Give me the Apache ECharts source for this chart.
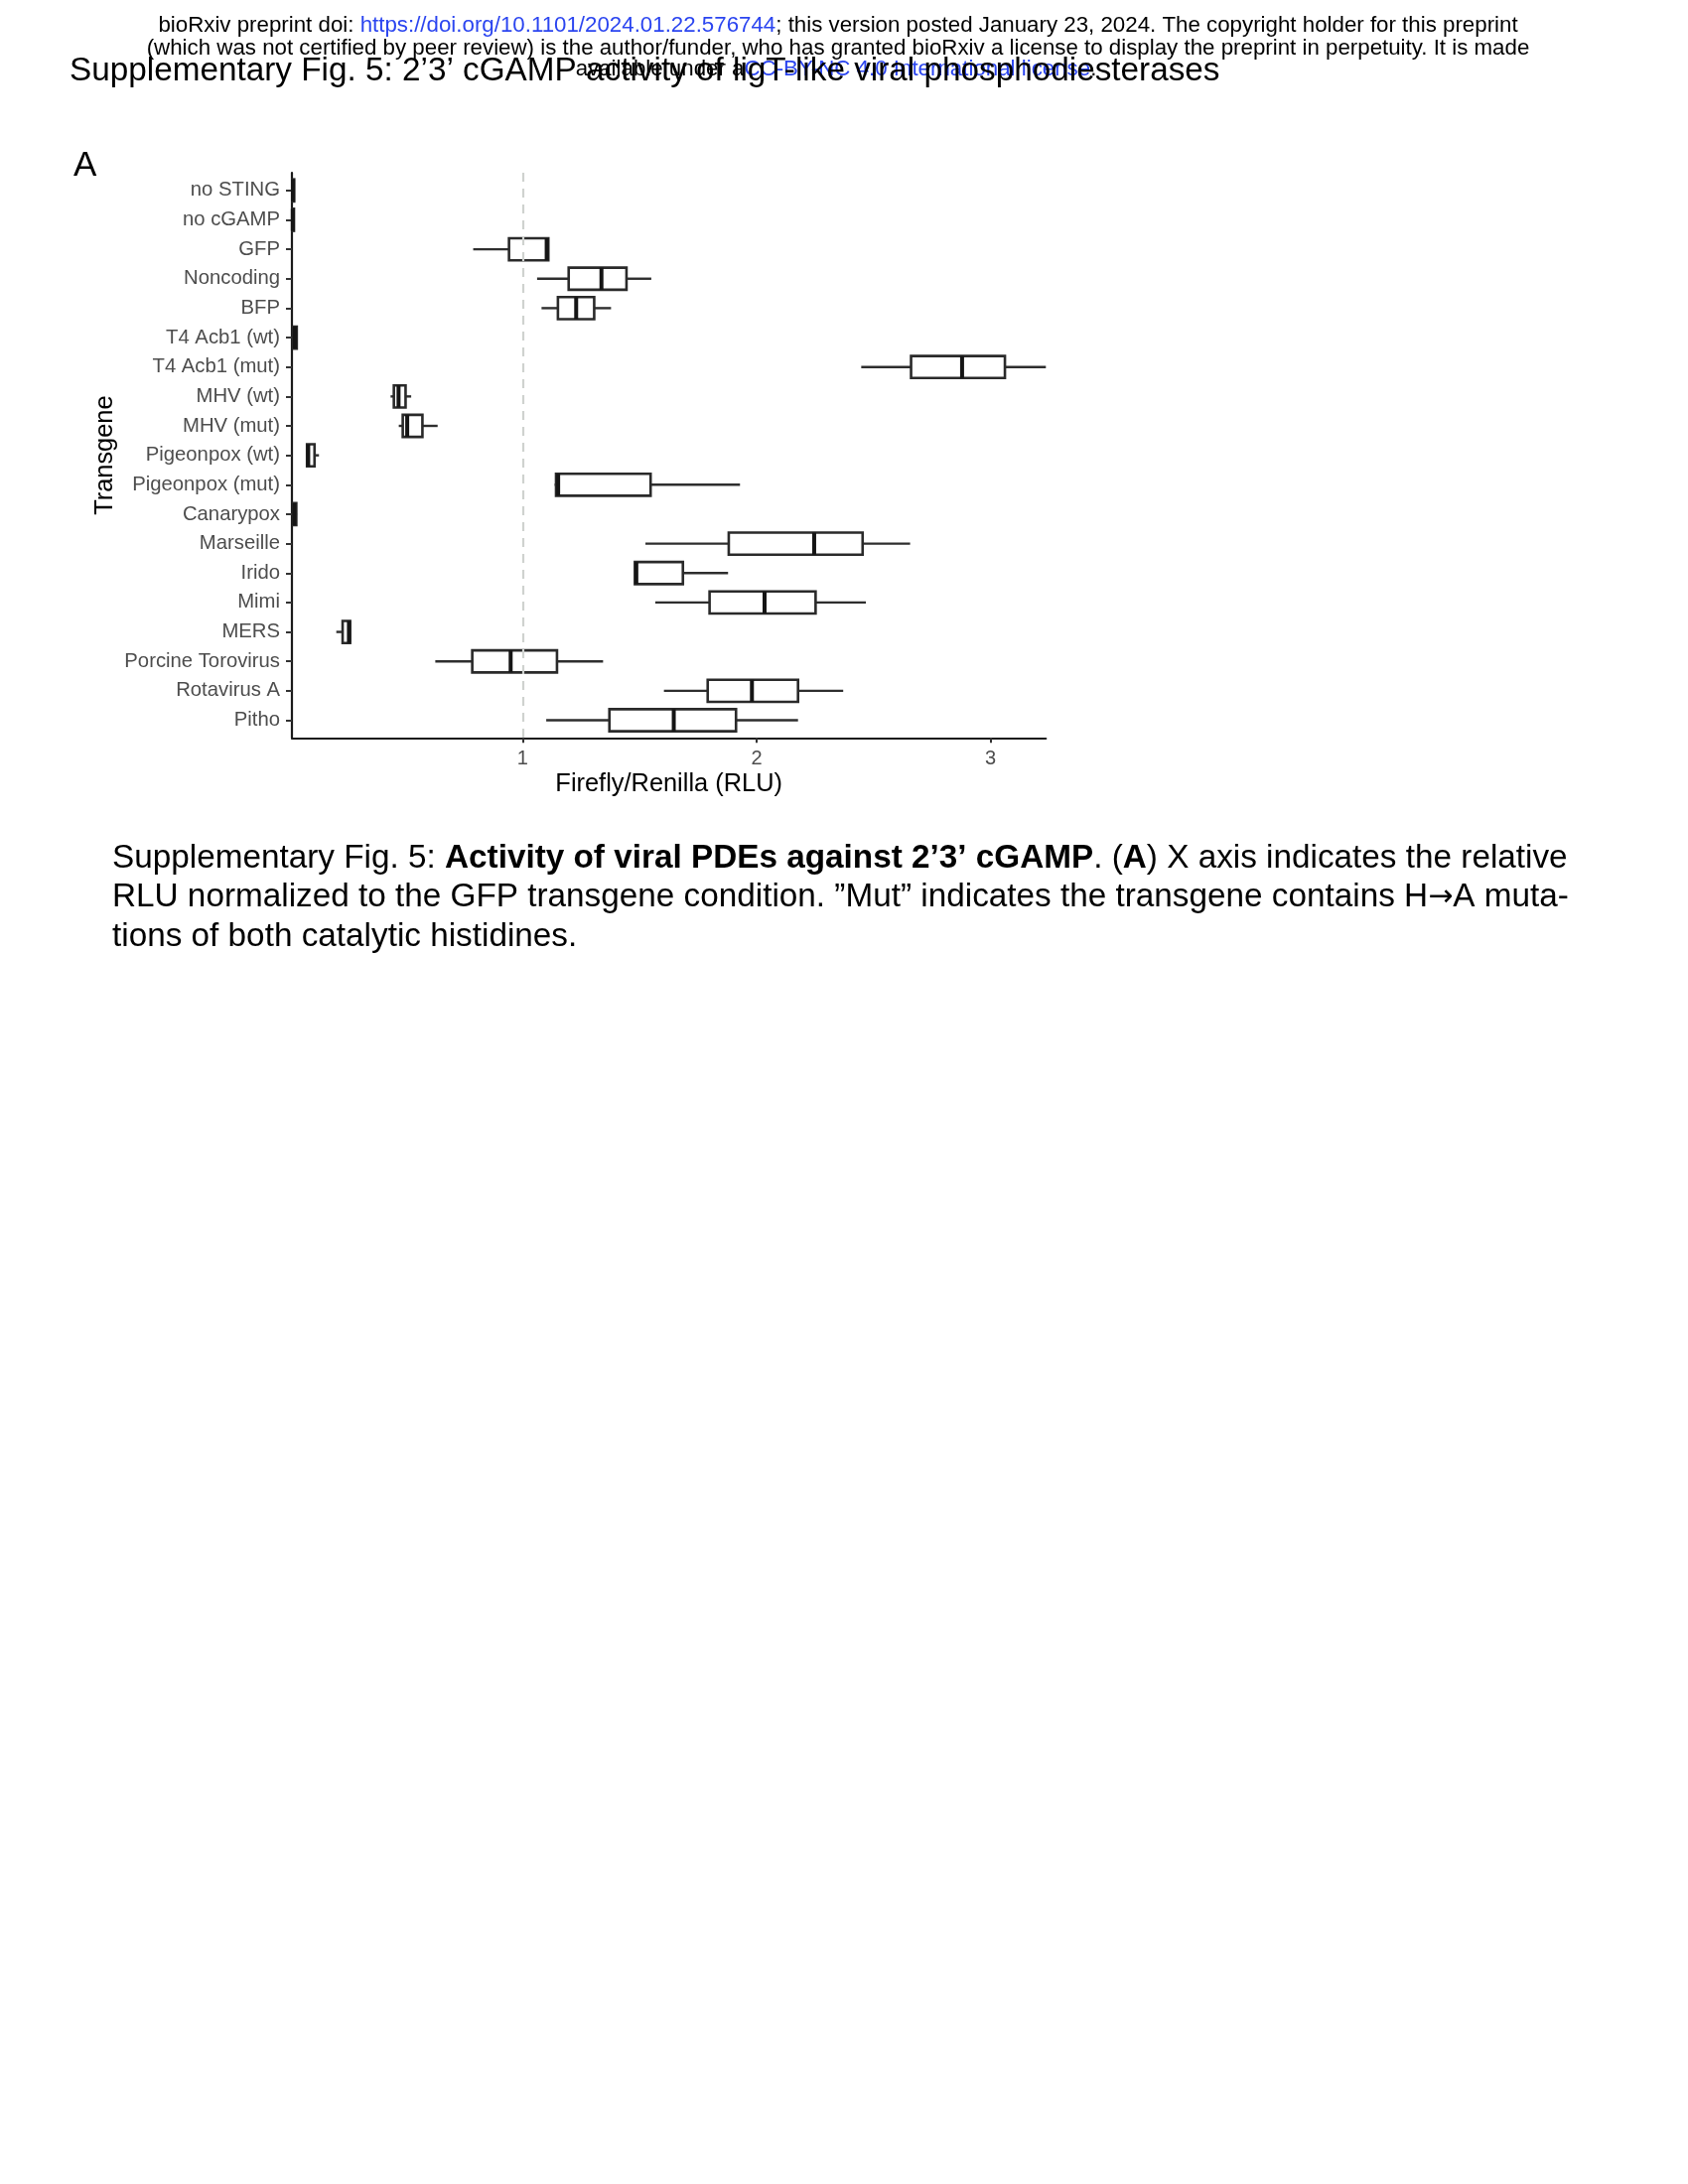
<!DOCTYPE html>
<html>
<head>
<meta charset="utf-8">
<script src="https://cdn.jsdelivr.net/npm/echarts@6/dist/echarts.min.js"></script>
<style>
  html, body { margin: 0; padding: 0; background: #fff; }
  #main { width: 1700px; height: 2200px; }
</style>
</head>
<body>
<div id="main"></div>
<script>
// transgene categories, top to bottom
var categories = ['no STING', 'no cGAMP', 'GFP', 'Noncoding', 'BFP', 'T4 Acb1 (wt)', 'T4 Acb1 (mut)',
    'MHV (wt)', 'MHV (mut)', 'Pigeonpox (wt)', 'Pigeonpox (mut)', 'Canarypox', 'Marseille', 'Irido',
    'Mimi', 'MERS', 'Porcine Torovirus', 'Rotavirus A', 'Pitho'];
// box statistics, Firefly/Renilla (RLU) normalised to GFP
var minVals    = [0.015, 0.015, 0.789, 1.062, 1.081, 0.018, 2.447, 0.436, 0.471, 0.079, 1.137, 0.017, 1.525, 1.480, 1.567, 0.204, 0.627, 1.604, 1.101];
var q1Vals     = [0.016, 0.016, 0.942, 1.197, 1.151, 0.021, 2.660, 0.450, 0.488, 0.079, 1.143, 0.020, 1.881, 1.480, 1.799, 0.231, 0.785, 1.791, 1.371];
var medianVals = [0.019, 0.018, 1.103, 1.337, 1.229, 0.027, 2.878, 0.470, 0.507, 0.084, 1.152, 0.025, 2.246, 1.486, 2.034, 0.258, 0.949, 1.980, 1.646];
var q3Vals     = [0.024, 0.023, 1.110, 1.444, 1.306, 0.035, 3.061, 0.500, 0.572, 0.111, 1.547, 0.033, 2.453, 1.685, 2.252, 0.263, 1.147, 2.177, 1.912];
var maxVals    = [0.026, 0.025, 1.110, 1.550, 1.378, 0.038, 3.236, 0.524, 0.637, 0.130, 1.929, 0.036, 2.656, 1.878, 2.467, 0.263, 1.344, 2.370, 2.177];
var xTicks = [1, 2, 3];
var refLine = 1;

var boxData = categories.map(function (c, i) {
    return [i, minVals[i], q1Vals[i], medianVals[i], q3Vals[i], maxVals[i]];
});
var yTicks = categories.map(function (c, i) { return i; });

var FONT = '"Liberation Sans", Arial, Helvetica, sans-serif';
var LINK = '#2b45f0';

function renderBox(params, api) {
    var y = api.value(0);
    var pMin = api.coord([api.value(1), y]);
    var pQ1 = api.coord([api.value(2), y]);
    var pMed = api.coord([api.value(3), y]);
    var pQ3 = api.coord([api.value(4), y]);
    var pMax = api.coord([api.value(5), y]);
    var h = api.size([0, 1])[1] * 0.75;
    var cy = pMed[1];
    var whisker = { stroke: '#2e2e2e', lineWidth: 2.4, fill: null };
    return {
        type: 'group',
        children: [
            { type: 'line', shape: { x1: pMin[0], y1: cy, x2: pQ1[0], y2: cy }, style: whisker },
            { type: 'line', shape: { x1: pQ3[0], y1: cy, x2: pMax[0], y2: cy }, style: whisker },
            { type: 'rect', shape: { x: pQ1[0], y: cy - h / 2, width: Math.max(pQ3[0] - pQ1[0], 0.5), height: h },
              style: { fill: '#ffffff', stroke: '#2a2a2a', lineWidth: 2.6 } },
            { type: 'line', shape: { x1: pMed[0], y1: cy - h / 2, x2: pMed[0], y2: cy + h / 2 },
              style: { stroke: '#151515', lineWidth: 4 } }
        ]
    };
}

var chart = echarts.init(document.getElementById('main'), null, { renderer: 'canvas' });
chart.setOption({
    backgroundColor: '#ffffff',
    animation: false,
    grid: { left: 294, right: 646.7, top: 174, bottom: 1456.7, containLabel: false },
    xAxis: {
        type: 'value',
        position: 'bottom',
        min: 0.0144,
        max: 3.236,
        name: 'Firefly/Renilla (RLU)',
        nameLocation: 'middle',
        nameGap: 34,
        nameTextStyle: { fontFamily: FONT, fontSize: 25.4, color: '#000' },
        axisLine: { show: true, onZero: false, lineStyle: { color: '#1a1a1a', width: 2.2 } },
        axisTick: { show: true, length: 5, customValues: xTicks, lineStyle: { color: '#333', width: 2 } },
        axisLabel: { customValues: xTicks, fontFamily: FONT, fontSize: 20, color: '#4d4d4d', margin: 11 },
        splitLine: { show: false }
    },
    yAxis: {
        type: 'value',
        inverse: true,
        min: -0.6,
        max: categories.length - 0.4,
        name: 'Transgene',
        nameLocation: 'middle',
        nameGap: 176,
        nameRotate: 90,
        nameTextStyle: { fontFamily: FONT, fontSize: 25.4, color: '#000' },
        axisLine: { show: true, onZero: false, lineStyle: { color: '#1a1a1a', width: 2.2 } },
        axisTick: { show: true, length: 6, customValues: yTicks, lineStyle: { color: '#333', width: 2 } },
        axisLabel: {
            customValues: yTicks,
            fontFamily: FONT, fontSize: 20.3, color: '#4d4d4d', margin: 12,
            formatter: function (v) { return categories[Math.round(v)] || ''; }
        },
        splitLine: { show: false }
    },
    series: [{
        type: 'custom',
        renderItem: renderBox,
        encode: { x: [1, 2, 3, 4, 5], y: 0 },
        data: boxData,
        z: 3,
        markLine: {
            silent: true,
            symbol: 'none',
            label: { show: false },
            lineStyle: { color: '#cfd2cf', type: [9, 7], width: 2.2 },
            data: [{ xAxis: refLine }]
        }
    }],
    graphic: [
        { type: 'text', x: 844, y: 26, style: {
            text: '{k|bioRxiv preprint doi: }{b|https://doi.org/10.1101/2024.01.22.576744}{k|; this version posted January 23, 2024. The copyright holder for this preprint}',
            align: 'center', verticalAlign: 'middle',
            rich: { k: { fontFamily: FONT, fontSize: 22.3, fill: '#000' }, b: { fontFamily: FONT, fontSize: 22.3, fill: LINK } } } },
        { type: 'text', x: 844, y: 49, style: {
            text: '(which was not certified by peer review) is the author/funder, who has granted bioRxiv a license to display the preprint in perpetuity. It is made',
            align: 'center', verticalAlign: 'middle', fontFamily: FONT, fontSize: 22.3, fill: '#000' } },
        { type: 'text', x: 842, y: 70, style: {
            text: '{k|available under a}{b|CC-BY-NC 4.0 International license}{k|.}',
            align: 'center', verticalAlign: 'middle',
            rich: { k: { fontFamily: FONT, fontSize: 22.3, fill: '#000' }, b: { fontFamily: FONT, fontSize: 22.3, fill: LINK } } } },
        { type: 'text', x: 70, y: 72, style: {
            text: 'Supplementary Fig. 5: 2\u20193\u2019 cGAMP activity of ligT-like viral phosphodiesterases',
            align: 'left', verticalAlign: 'middle', fontFamily: FONT, fontSize: 33.3, fill: '#000' } },
        { type: 'text', x: 74, y: 167, style: {
            text: 'A', align: 'left', verticalAlign: 'middle', fontFamily: FONT, fontSize: 35, fill: '#000' } },
        { type: 'text', x: 113, y: 865, style: {
            text: '{n|Supplementary Fig. 5: }{b|Activity of viral PDEs against 2\u20193\u2019 cGAMP}{n|. (}{b|A}{n|) X axis indicates the relative}',
            align: 'left', verticalAlign: 'middle',
            rich: { n: { fontFamily: FONT, fontSize: 33.3, fill: '#000' }, b: { fontFamily: FONT, fontSize: 33.3, fontWeight: 'bold', fill: '#000' } } } },
        { type: 'text', x: 113, y: 904, style: {
            text: '{n|RLU normalized to the GFP transgene condition. \u201dMut\u201d indicates the transgene contains H}{a|\u2192}{n|A muta-}',
            align: 'left', verticalAlign: 'middle',
            rich: { n: { fontFamily: FONT, fontSize: 33.3, fill: '#000' }, a: { fontFamily: '"DejaVu Sans", sans-serif', fontSize: 30, fill: '#000' } } } },
        { type: 'text', x: 113, y: 944, style: {
            text: 'tions of both catalytic histidines.',
            align: 'left', verticalAlign: 'middle', fontFamily: FONT, fontSize: 33.3, fill: '#000' } }
    ]
});
</script>
</body>
</html>
